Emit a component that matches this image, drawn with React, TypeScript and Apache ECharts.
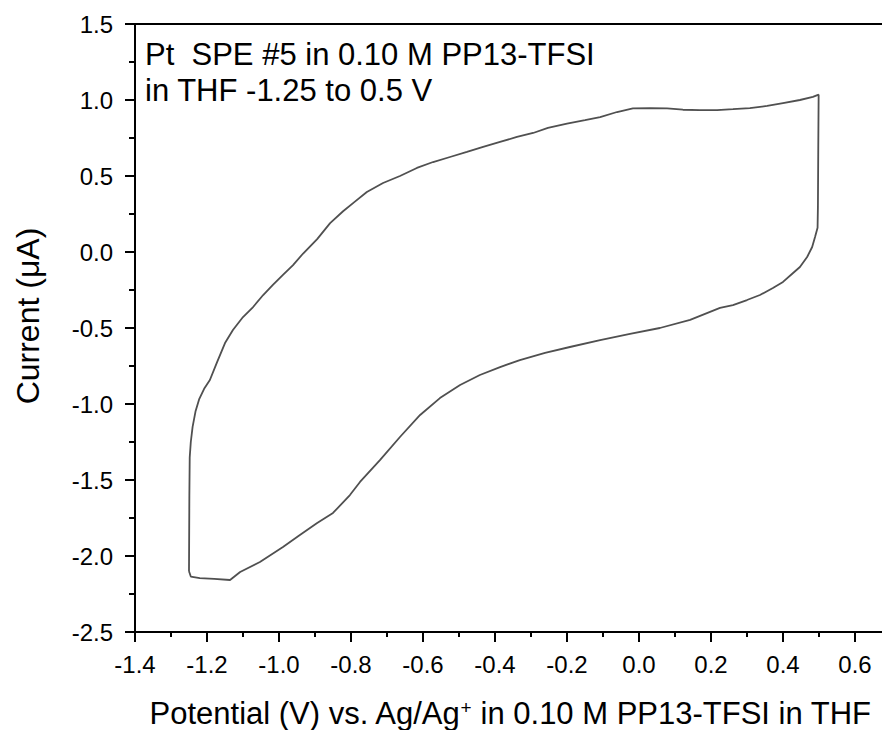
import React, { useEffect, useRef } from "react";
import * as echarts from "echarts";

// Cyclic voltammogram (V vs. Ag/Ag+, current in µA)
const potential: number[] = [
  -1.25, -1.249, -1.248, -1.245, -1.24, -1.232, -1.222, -1.208, -1.192, -1.172,
  -1.15, -1.128, -1.1, -1.072, -1.044, -1.017, -0.989, -0.961, -0.933, -0.894,
  -0.858, -0.822, -0.79, -0.756, -0.711, -0.664, -0.617, -0.572, -0.525, -0.478,
  -0.433, -0.386, -0.339, -0.294, -0.253, -0.2, -0.15, -0.108, -0.061, -0.017,
  0.031, 0.078, 0.122, 0.169, 0.217, 0.261, 0.308, 0.356, 0.4, 0.447,
  0.483, 0.499, 0.498, 0.497, 0.496, 0.489, 0.481, 0.467, 0.447, 0.428,
  0.4, 0.372, 0.336, 0.3, 0.261, 0.225, 0.142, 0.058, -0.025, -0.108,
  -0.192, -0.261, -0.331, -0.386, -0.442, -0.497, -0.553, -0.608, -0.664, -0.719,
  -0.775, -0.803, -0.85, -0.894, -0.942, -0.989, -1.053, -1.108, -1.136, -1.18,
  -1.22, -1.245, -1.25,
];
const current: number[] = [
  -2.1, -1.6, -1.35, -1.25, -1.15, -1.05, -0.97, -0.9, -0.842, -0.724,
  -0.599, -0.513, -0.428, -0.362, -0.283, -0.217, -0.151, -0.086, -0.01, 0.085,
  0.19, 0.268, 0.33, 0.395, 0.454, 0.5, 0.553, 0.592, 0.625, 0.658,
  0.691, 0.724, 0.757, 0.783, 0.816, 0.845, 0.868, 0.888, 0.921, 0.945,
  0.947, 0.945, 0.936, 0.934, 0.934, 0.94, 0.947, 0.961, 0.98, 1.0,
  1.02, 1.035, 0.7, 0.3, 0.16, 0.099, 0.033, -0.033, -0.099, -0.138,
  -0.197, -0.237, -0.283, -0.316, -0.349, -0.368, -0.447, -0.5, -0.539, -0.579,
  -0.625, -0.664, -0.711, -0.757, -0.809, -0.875, -0.961, -1.072, -1.217, -1.368,
  -1.513, -1.599, -1.717, -1.783, -1.862, -1.941, -2.039, -2.105, -2.158, -2.15,
  -2.145, -2.135, -2.1,
];

const xTitle = "Potential (V) vs. Ag/Ag{sup|+} in 0.10 M PP13-TFSI in THF";
const yTitle = "Current (μA)";
const noteLine1 = "Pt  SPE #5 in 0.10 M PP13-TFSI";
const noteLine2 = "in THF -1.25 to 0.5 V";

const FONT = '"Liberation Sans", Arial, sans-serif';

export default function App() {
  const ref = useRef<HTMLDivElement>(null);
  useEffect(() => {
    if (!ref.current) return;
    const chart = echarts.init(ref.current, null, { renderer: "svg" });
    const data = potential.map((v, i) => [v, current[i]]);
    chart.setOption({
      animation: false,
      backgroundColor: "#ffffff",
      grid: {
        left: 135,
        top: 24,
        width: 792,
        height: 608,
        containLabel: false,
        outerBoundsMode: "none",
        show: true,
        borderColor: "#000",
        borderWidth: 2,
        backgroundColor: "transparent",
      },
      xAxis: {
        type: "value",
        min: -1.4,
        max: 0.8,
        interval: 0.2,
        splitLine: { show: false },
        axisLine: { show: true, onZero: false, lineStyle: { color: "#000", width: 2 } },
        axisTick: { show: true, length: 10, inside: false, lineStyle: { color: "#000", width: 2 } },
        minorTick: { show: true, splitNumber: 2, length: 5, lineStyle: { color: "#000", width: 2 } },
        minorSplitLine: { show: false },
        axisLabel: {
          color: "#000",
          fontSize: 24,
          fontFamily: FONT,
          margin: 20,
          showMaxLabel: false,
          formatter: (v: number) => v.toFixed(1),
        },
      },
      yAxis: {
        type: "value",
        min: -2.5,
        max: 1.5,
        interval: 0.5,
        splitLine: { show: false },
        axisLine: { show: true, onZero: false, lineStyle: { color: "#000", width: 2 } },
        axisTick: { show: true, length: 10, inside: false, lineStyle: { color: "#000", width: 2 } },
        minorTick: { show: true, splitNumber: 2, length: 6, lineStyle: { color: "#000", width: 2 } },
        minorSplitLine: { show: false },
        axisLabel: {
          color: "#000",
          fontSize: 24,
          fontFamily: FONT,
          margin: 22,
          formatter: (v: number) => v.toFixed(1),
        },
      },
      series: [
        {
          type: "line",
          data,
          showSymbol: false,
          smooth: false,
          lineStyle: { color: "#505050", width: 1.8 },
          clip: true,
        },
      ],
      graphic: [
        {
          type: "text",
          left: 145,
          top: 39,
          style: { text: noteLine1, font: `31px ${FONT}`, fill: "#000" },
        },
        {
          type: "text",
          left: 145,
          top: 75,
          style: { text: noteLine2, font: `31px ${FONT}`, fill: "#000" },
        },
        {
          type: "text",
          x: 510,
          y: 713,
          style: {
            text: xTitle,
            font: `31px ${FONT}`,
            fill: "#000",
            align: "center",
            verticalAlign: "middle",
            rich: {
              sup: { fontSize: 19, fontFamily: FONT, verticalAlign: "top", lineHeight: 19, fill: "#000" },
            },
          },
        },
        {
          type: "text",
          x: 28,
          y: 316,
          rotation: Math.PI / 2,
          style: {
            text: yTitle,
            font: `32px ${FONT}`,
            fill: "#000",
            align: "center",
            verticalAlign: "middle",
          },
        },
      ],
    });
    return () => chart.dispose();
  }, []);
  return (
    <div
      ref={ref}
      style={{ position: "fixed", left: 0, top: 0, width: 882, height: 730 }}
    />
  );
}
